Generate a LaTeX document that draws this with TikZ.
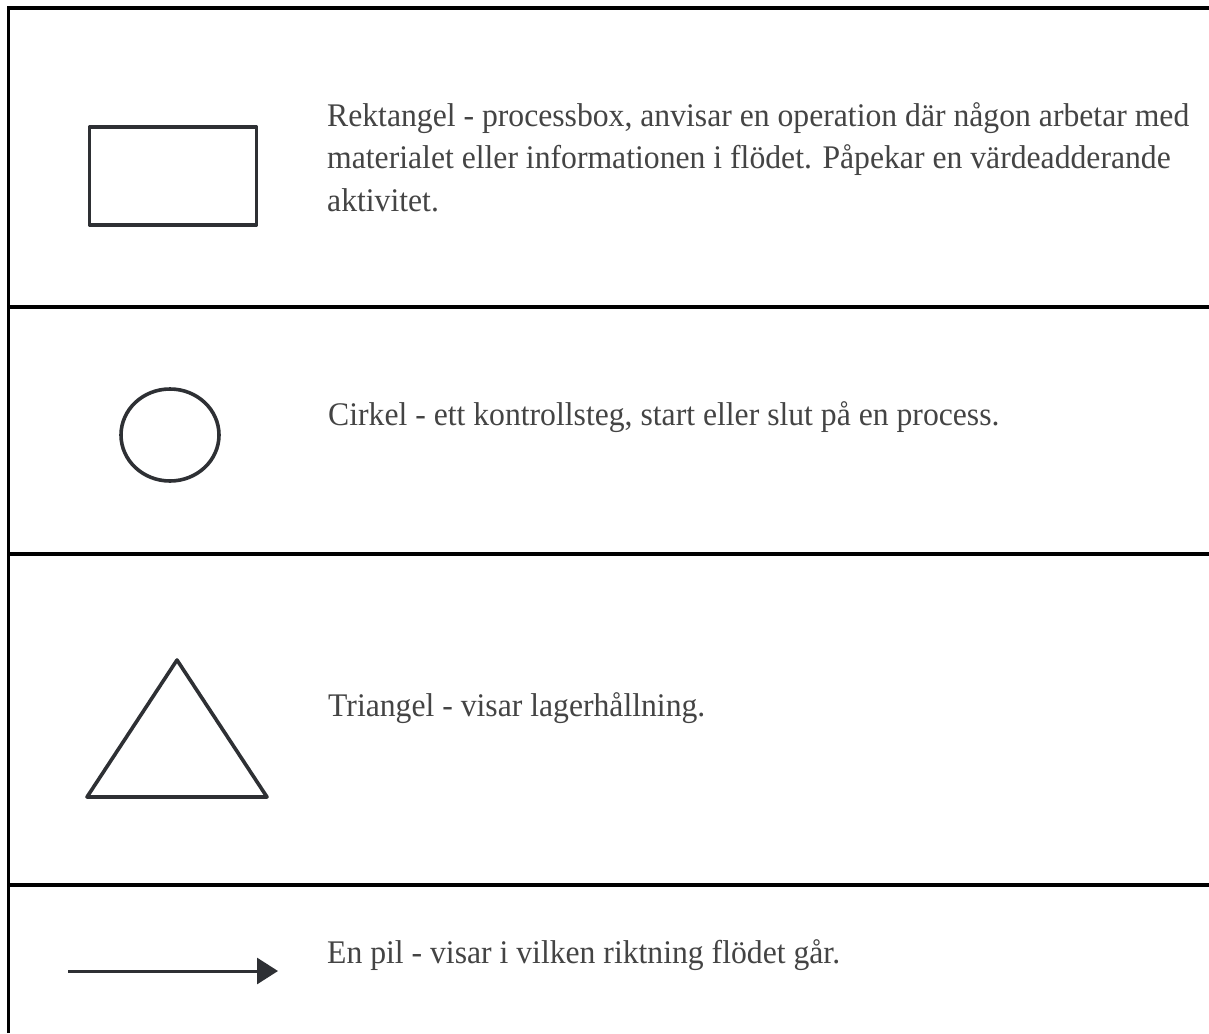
\documentclass[tikz,border=0pt]{standalone}
\usepackage{fontspec}
\setmainfont{Liberation Serif}[FakeStretch=0.96]
\usetikzlibrary{arrows.meta}
\definecolor{ink}{HTML}{2E3034}
\definecolor{txtgray}{HTML}{444444}
\begin{document}
\begin{tikzpicture}[x=1pt,y=-1pt,
  rule/.style={line width=3.5pt,black},
  shapeline/.style={line width=3.6pt,ink,line join=round},
  txt/.style={anchor=base west,inner sep=0pt,text=txtgray,font=\fontsize{33}{40}\selectfont}]
  \useasboundingbox[fill=white] (0,0) rectangle (1209,1033);

  % table rules
  \draw[rule] (8.5,1033) -- (8.5,8) -- (1209,8);
  \draw[rule] (8.5,307) -- (1209,307);
  \draw[rule] (8.5,554) -- (1209,554);
  \draw[rule] (8.5,885) -- (1209,885);

  % row 1: process box
  \draw[shapeline] (89.5,127) rectangle (256.5,225);
  \node[txt] (t1a) at (327,126) {Rektangel - processbox, anvisar en operation där någon arbetar med};
  \node[txt] (t1b) at (327,168) {materialet eller informationen i flödet. Påpekar en värdeadderande};
  \node[txt] (t1c) at (327,211) {aktivitet.};

  % row 2: circle
  \draw[shapeline] (170,435) ellipse [x radius=49, y radius=46];
  \node[txt] (t2) at (328,425) {Cirkel - ett kontrollsteg, start eller slut på en process.};

  % row 3: triangle
  \draw[shapeline] (177,660) -- (267,797) -- (87,797) -- cycle;
  \node[txt] (t3) at (328,716) {Triangel - visar lagerhållning.};

  % row 4: arrow
  \coordinate (a1) at (68,971);
  \coordinate (a2) at (278,971);
  \draw[line width=3pt,ink,-{Triangle[length=21pt,width=26pt]}] (a1) -- (a2);
  \node[txt] (t4) at (327,963) {En pil - visar i vilken riktning flödet går.};
\end{tikzpicture}
\end{document}
